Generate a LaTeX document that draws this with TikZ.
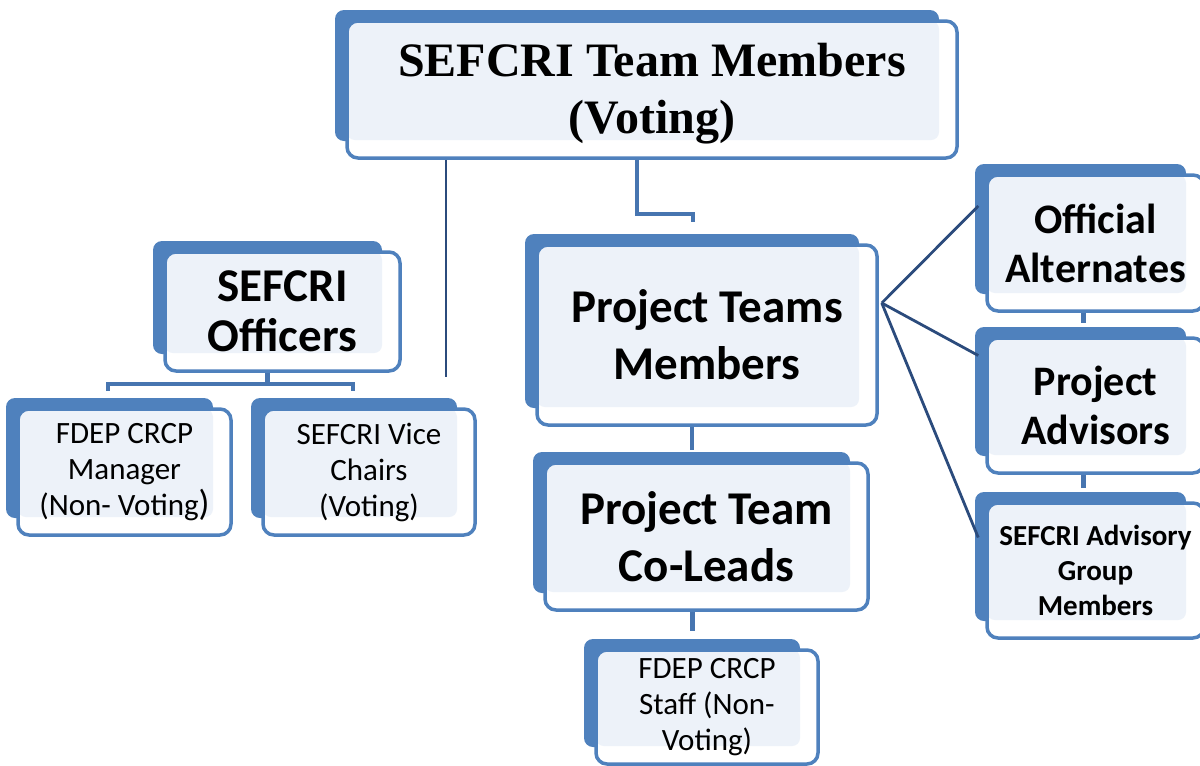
\documentclass[tikz,border=0pt]{standalone}
\usepackage{fontspec}
\setmainfont{Carlito}
\newfontfamily\titleserif{Liberation Serif}
\usetikzlibrary{calc}
\definecolor{cardblue}{HTML}{4F81BD}
\definecolor{cardtint}{HTML}{EDF2F9}
\definecolor{linkblue}{HTML}{4775B0}
\definecolor{navyline}{HTML}{2B4B7C}
\tikzset{
  card/.style={draw=cardblue, line width=3.5pt, fill=white, rounded corners=11pt,
    inner sep=0pt, align=center, text=black,
    path picture={\fill[cardtint, rounded corners=8pt]
      (path picture bounding box.north west) rectangle
      ($(path picture bounding box.south east)+(-18,-18)$);}},
  cardback/.style={fill=cardblue, rounded corners=9pt},
  link/.style={draw=linkblue, line width=4.2pt},
  navylink/.style={draw=navyline, line width=2.8pt},
  titletext/.style={font=\titleserif\fontsize{48}{57}\selectfont\bfseries},
  bigtext/.style={font=\fontsize{47}{57}\selectfont\bfseries},
  offtext/.style={font=\fontsize{47}{50}\selectfont\bfseries},
  sidetext/.style={font=\fontsize{42}{49}\selectfont\bfseries},
  smallbold/.style={font=\fontsize{29}{35}\selectfont\bfseries},
  smalltext/.style={font=\fontsize{31}{36}\selectfont},
}
% \orgcard{name}{left}{top}{right}{bottom}{style}{text}: shadow card plus front card
\newcommand\orgcard[7]{%
  \fill[cardback] ({#2-12},{#3-11}) rectangle ({#4-18},{#5-17});
  \node[card,#6,minimum width={(#4-#2)*1pt},minimum height={(#5-#3)*1pt}]
    (#1) at ({(#2+#4)/2},{(#3+#5)/2}) {#7};
}
\begin{document}
\begin{tikzpicture}[x=1pt,y=-1pt]
\useasboundingbox (0,0) rectangle (1200,766);

% cards
\orgcard{top}{347}{21}{957}{158}{titletext}{\rule{0pt}{42pt}SEFCRI Team Members\\(Voting)}
\orgcard{off}{165}{252}{400}{371}{offtext}{SEFCRI\\Officers}
\orgcard{mgr}{18}{409}{231}{535}{smalltext}{FDEP CRCP\\Manager\\(Non- Voting{\fontsize{36}{36}\selectfont)}}
\orgcard{vice}{263}{409}{475}{535}{smalltext}{SEFCRI Vice\\Chairs\\(Voting)}
\orgcard{ptm}{537}{245}{877}{425}{bigtext}{Project Teams\\Members}
\orgcard{col}{545}{463}{868}{610}{bigtext}{Project Team\\Co-Leads}
\orgcard{staff}{596}{650}{818}{764}{smalltext}{FDEP CRCP\\Staff (Non-\\Voting)}
\orgcard{alt}{987}{175}{1204}{311}{sidetext}{Official\\Alternates}
\orgcard{adv}{987}{338}{1204}{473}{sidetext}{Project\\Advisors}
\orgcard{sag}{987}{503}{1204}{638}{smallbold}{SEFCRI Advisory\\Group\\Members}

% connectors
\coordinate (offend) at (446,377);
\draw[navylink] (top.south -| offend) -- (offend);

\coordinate (ptmstub) at ([xshift=-14pt,yshift=21pt]ptm.north);
\draw[link] ([xshift=-15pt]top.south) |- ($(ptmstub)+(0,-8)$) -- (ptmstub);

\coordinate (offbus) at ([xshift=-15pt,yshift=-11pt]off.south);
\coordinate (mgrdrop) at (108,391);
\coordinate (vicedrop) at (353,391);
\draw[link] ([xshift=-15pt]off.south) -- (offbus);
\draw[link] (mgrdrop) |- (offbus) -| (vicedrop);

\draw[link] ([xshift=-15pt]ptm.south) -- ([xshift=-15pt,yshift=11pt]ptm.south |- col.north);
\draw[link] ([xshift=-14pt]col.south) -- ([xshift=-14pt,yshift=17pt]col.south |- staff.north);
\draw[link] ([xshift=-12pt]alt.south) -- ([xshift=-12pt,yshift=13pt]alt.south |- adv.north);
\draw[link] ([xshift=-12pt]adv.south) -- ([xshift=-12pt,yshift=13pt]adv.south |- sag.north);

\coordinate (fan) at ([xshift=3pt,yshift=32pt]ptm.east);
\draw[navylink] (fan) -- ([xshift=-7pt,yshift=37pt]alt.west);
\draw[navylink] (fan) -- ([xshift=-7pt,yshift=50pt]adv.west);
\draw[navylink] (fan) -- ([xshift=-7pt,yshift=33pt]sag.west);
\end{tikzpicture}
\end{document}
